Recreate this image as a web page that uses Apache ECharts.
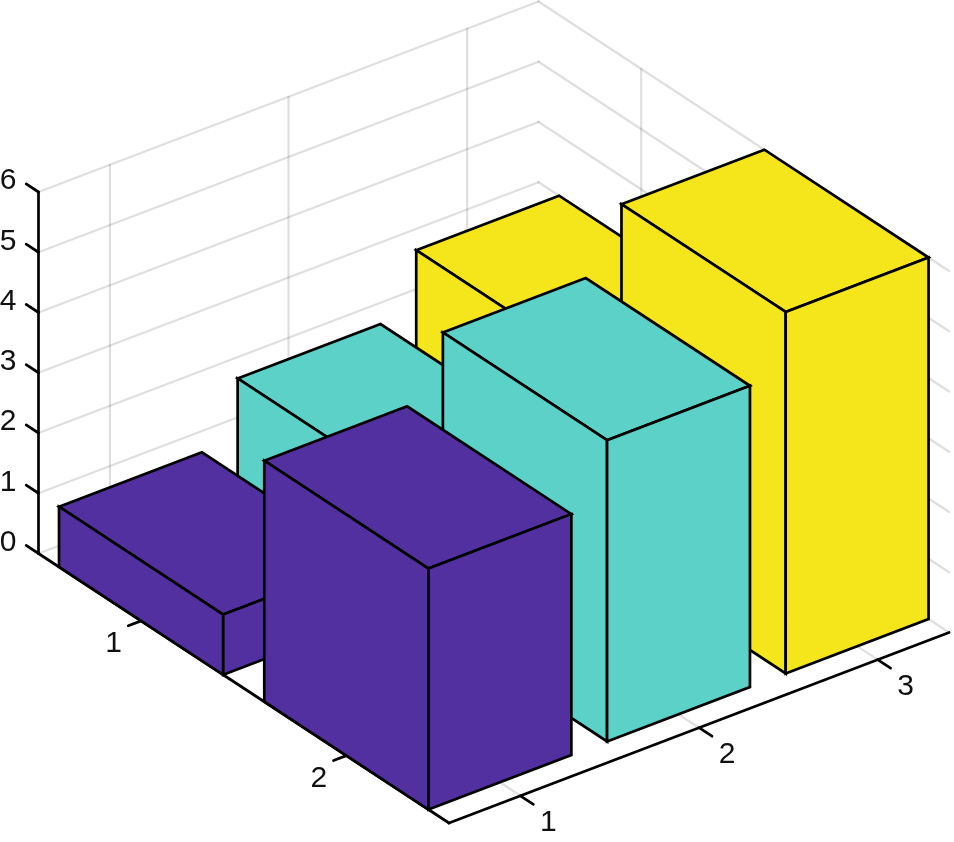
<!DOCTYPE html>
<html>
<head>
<meta charset="utf-8">
<title>bar3</title>
<style>
  html, body { margin: 0; padding: 0; background: #fff; }
  #main { width: 954px; height: 842px; }
</style>
<script src="https://cdn.jsdelivr.net/npm/echarts@6/dist/echarts.min.js"></script>
</head>
<body>
<div id="main"></div>
<script>
// 数据
var rowTicks = [1, 2];
var colTicks = [1, 2, 3];
var zTicks = [0, 1, 2, 3, 4, 5, 6];
var row1Heights = [1, 2, 3];
var row2Heights = [4, 5, 6];
var colColors = ['#52309f', '#5bd1c7', '#f5e51b'];

// axis limits and bar half width, as in matlab bar3
var rowMin = 0.5, rowMax = 2.5;
var colMin = 0.6, colMax = 3.4;
var zMax = 6;
var halfWidth = 0.4;

// parallel projection: one unit along each data axis, in plane units
var origin = [38.5, 553.5];
var rowVec = [205.25, 134.75];
var colVec = [178.6, -68.04];
var zVec = [0, -60.25];

function project(r, c, z) {
  var dr = r - rowMin, dc = c - colMin;
  return [
    origin[0] + dr * rowVec[0] + dc * colVec[0] + z * zVec[0],
    origin[1] + dr * rowVec[1] + dc * colVec[1] + z * zVec[1]
  ];
}

// back to front: rows ascending, columns descending
var barData = [];
[row1Heights, row2Heights].forEach(function (heights, i) {
  for (var j = heights.length - 1; j >= 0; j--) {
    barData.push([rowTicks[i], colTicks[j], heights[j]]);
  }
});

// [r0, c0, z0, r1, c1, z1]
var gridSegments = [];
zTicks.forEach(function (z) {
  gridSegments.push([rowMin, colMin, z, rowMin, colMax, z]);
  gridSegments.push([rowMin, colMax, z, rowMax, colMax, z]);
});
colTicks.forEach(function (c) {
  gridSegments.push([rowMin, c, 0, rowMin, c, zMax]);
  gridSegments.push([rowMin, c, 0, rowMax, c, 0]);
});
rowTicks.forEach(function (r) {
  gridSegments.push([r, colMax, 0, r, colMax, zMax]);
  gridSegments.push([r, colMin, 0, r, colMax, 0]);
});

var axisSegments = [
  [rowMin, colMin, 0, rowMin, colMin, zMax],
  [rowMin, colMin, 0, rowMax, colMin, 0],
  [rowMax, colMin, 0, rowMax, colMax, 0]
];
zTicks.forEach(function (z) {
  axisSegments.push([rowMin, colMin, z, rowMin - 0.06, colMin, z]);
});
rowTicks.forEach(function (r) {
  axisSegments.push([r, colMin, 0, r, colMin - 0.072, 0]);
});
colTicks.forEach(function (c) {
  axisSegments.push([rowMax, c, 0, rowMax + 0.063, c, 0]);
});

// [text, r, c, z, dx, dy]
var labelData = [];
zTicks.forEach(function (z) {
  labelData.push([String(z), rowMin, colMin, z, -30.5, -11]);
});
rowTicks.forEach(function (r) {
  labelData.push([String(r), r, colMin, 0, -27.5, 23]);
});
colTicks.forEach(function (c) {
  labelData.push([String(c), rowMax, c, 0, 28, 27]);
});

function renderSegment(color, width) {
  return function (params, api) {
    var a = api.coord(project(api.value(0), api.value(1), api.value(2)));
    var b = api.coord(project(api.value(3), api.value(4), api.value(5)));
    return {
      type: 'line',
      shape: { x1: a[0], y1: a[1], x2: b[0], y2: b[1] },
      style: { stroke: color, lineWidth: width, lineCap: 'round', fill: null }
    };
  };
}

function renderBar(params, api) {
  var r = api.value(0), c = api.value(1), h = api.value(2);
  var r0 = r - halfWidth, r1 = r + halfWidth;
  var c0 = c - halfWidth, c1 = c + halfWidth;
  var color = colColors[colTicks.indexOf(c)];
  function pts(list) {
    return list.map(function (p) { return api.coord(project(p[0], p[1], p[2])); });
  }
  var faces = [
    [[r0, c0, h], [r0, c1, h], [r1, c1, h], [r1, c0, h]],
    [[r0, c0, 0], [r1, c0, 0], [r1, c0, h], [r0, c0, h]],
    [[r1, c0, 0], [r1, c1, 0], [r1, c1, h], [r1, c0, h]]
  ];
  return {
    type: 'group',
    children: faces.map(function (f) {
      return {
        type: 'polygon',
        shape: { points: pts(f) },
        style: { fill: color, stroke: '#000', lineWidth: 2.7, lineJoin: 'miter' }
      };
    })
  };
}

function renderLabel(params, api) {
  var p = api.coord(project(api.value(1), api.value(2), api.value(3)));
  return {
    type: 'text',
    style: {
      text: labelData[params.dataIndex][0],
      x: p[0] + api.value(4),
      y: p[1] + api.value(5),
      align: 'center',
      verticalAlign: 'middle',
      fill: '#111',
      font: '30px "Liberation Sans", Arial, sans-serif'
    }
  };
}

var chart = echarts.init(document.getElementById('main'), null, { renderer: 'canvas' });
chart.setOption({
  animation: false,
  backgroundColor: '#fff',
  grid: { left: 0, right: 0, top: 0, bottom: 0 },
  xAxis: { type: 'value', min: 0, max: 954, show: false },
  yAxis: { type: 'value', min: 0, max: 842, inverse: true, show: false },
  series: [
    { type: 'custom', name: 'grid', clip: false, silent: true, data: gridSegments,
      renderItem: renderSegment('rgba(38,38,38,0.15)', 2.2) },
    { type: 'custom', name: 'axes', clip: false, silent: true, data: axisSegments,
      renderItem: renderSegment('#000', 2.7) },
    { type: 'custom', name: 'bars', clip: false, silent: true, data: barData,
      renderItem: renderBar },
    { type: 'custom', name: 'labels', clip: false, silent: true, data: labelData,
      renderItem: renderLabel }
  ]
});
</script>
</body>
</html>
